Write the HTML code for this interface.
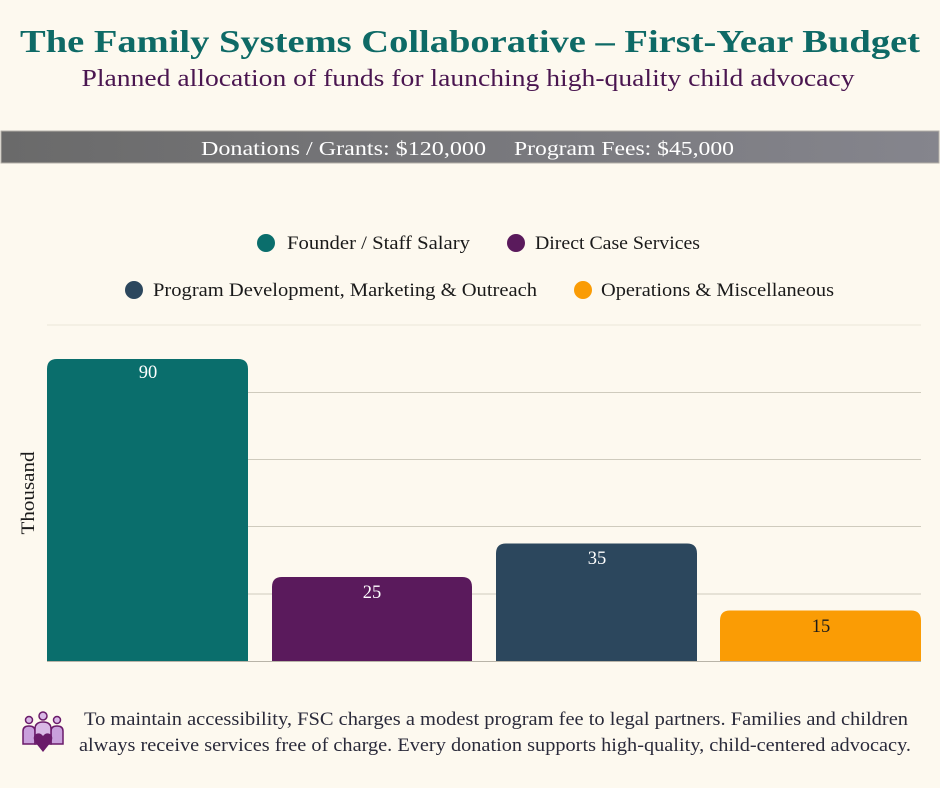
<!DOCTYPE html>
<html><head><meta charset="utf-8"><style>
html,body{margin:0;padding:0;background:#fdf9ef;}
svg{display:block;}
text{font-family:"Liberation Serif","DejaVu Serif",serif;}
</style></head><body>
<svg width="940" height="788" viewBox="0 0 940 788" xmlns="http://www.w3.org/2000/svg">
<defs>
<linearGradient id="band" x1="0" x2="1" y1="0" y2="0">
<stop offset="0" stop-color="#6a6a6a"/><stop offset="1" stop-color="#85858d"/>
</linearGradient>
</defs>
<rect width="940" height="788" fill="#fdf9ef"/>
<text x="470" y="52" text-anchor="middle" font-size="32" font-weight="bold" fill="#0e6a66" textLength="900" lengthAdjust="spacingAndGlyphs">The Family Systems Collaborative – First-Year Budget</text>
<text x="468" y="86" text-anchor="middle" font-size="24" fill="#4a1650" textLength="773" lengthAdjust="spacingAndGlyphs">Planned allocation of funds for launching high-quality child advocacy</text>
<rect x="1" y="131" width="938" height="32" fill="url(#band)" stroke="#b4b0a8" stroke-width="1"/>
<text x="343.5" y="155" text-anchor="middle" font-size="20" fill="#ffffff" textLength="285" lengthAdjust="spacingAndGlyphs">Donations / Grants: $120,000</text>
<text x="624" y="155" text-anchor="middle" font-size="20" fill="#ffffff" textLength="220" lengthAdjust="spacingAndGlyphs">Program Fees: $45,000</text>
<!-- legend -->
<circle cx="266" cy="243" r="9" fill="#0a6e6c"/>
<text x="287" y="249" font-size="19" fill="#1a1a1a" textLength="183" lengthAdjust="spacingAndGlyphs">Founder / Staff Salary</text>
<circle cx="516" cy="243" r="9" fill="#5a1a5c"/>
<text x="535" y="249" font-size="19" fill="#1a1a1a" textLength="165" lengthAdjust="spacingAndGlyphs">Direct Case Services</text>
<circle cx="134" cy="290" r="9" fill="#2c475d"/>
<text x="153" y="296" font-size="19" fill="#1a1a1a" textLength="384" lengthAdjust="spacingAndGlyphs">Program Development, Marketing &amp; Outreach</text>
<circle cx="583" cy="290" r="9" fill="#fa9c05"/>
<text x="601" y="296" font-size="19" fill="#1a1a1a" textLength="233" lengthAdjust="spacingAndGlyphs">Operations &amp; Miscellaneous</text>
<!-- gridlines -->
<line x1="47" x2="921" y1="325" y2="325" stroke="#ece7da" stroke-width="1"/>
<line x1="47" x2="921" y1="392.5" y2="392.5" stroke="#cfcbbd" stroke-width="1"/>
<line x1="47" x2="921" y1="459.5" y2="459.5" stroke="#cfcbbd" stroke-width="1"/>
<line x1="47" x2="921" y1="526.5" y2="526.5" stroke="#cfcbbd" stroke-width="1"/>
<line x1="47" x2="921" y1="594" y2="594" stroke="#cfcbbd" stroke-width="1"/>
<line x1="47" x2="921" y1="661.5" y2="661.5" stroke="#b8b4a8" stroke-width="1"/>
<!-- bars -->
<path d="M47,661 V369 Q47,359 57,359 H238 Q248,359 248,369 V661 Z" fill="#0a6e6c"/>
<path d="M272,661 V587 Q272,577 282,577 H462 Q472,577 472,587 V661 Z" fill="#5a1a5c"/>
<path d="M496,661 V553.5 Q496,543.5 506,543.5 H687 Q697,543.5 697,553.5 V661 Z" fill="#2c475d"/>
<path d="M720,661 V620.5 Q720,610.5 730,610.5 H911 Q921,610.5 921,620.5 V661 Z" fill="#fa9c05"/>
<text x="148" y="378" text-anchor="middle" font-size="18.5" fill="#ffffff">90</text>
<text x="372" y="598" text-anchor="middle" font-size="18.5" fill="#ffffff">25</text>
<text x="597" y="564" text-anchor="middle" font-size="18.5" fill="#ffffff">35</text>
<text x="821" y="632" text-anchor="middle" font-size="18.5" fill="#1a1a1a">15</text>
<text transform="translate(34,493) rotate(-90)" text-anchor="middle" font-size="19" fill="#1a1a1a" textLength="83" lengthAdjust="spacingAndGlyphs">Thousand</text>
<!-- icon -->
<g>
<circle cx="29" cy="720" r="3.5" fill="#d9b8e6" stroke="#6a1b6a" stroke-width="1.5"/>
<circle cx="43" cy="716" r="4" fill="#d9b8e6" stroke="#6a1b6a" stroke-width="1.5"/>
<circle cx="57" cy="720" r="3.5" fill="#d9b8e6" stroke="#6a1b6a" stroke-width="1.5"/>
<path d="M23,744 V731 Q23,726 29,726 Q35,726 35,731 V744 Z" fill="#c9a0dc" stroke="#6a1b6a" stroke-width="1.5"/>
<path d="M51,744 V731 Q51,726 57,726 Q63,726 63,731 V744 Z" fill="#c9a0dc" stroke="#6a1b6a" stroke-width="1.5"/>
<path d="M35,744 V729 Q35,722 43,722 Q51,722 51,729 V744 Z" fill="#d9b8e6" stroke="#6a1b6a" stroke-width="1.5"/>
<path d="M43,752 L35,742 Q32,737 36,734 Q40,732 43,736 Q46,732 50,734 Q54,737 51,742 Z" fill="#6a1b6a"/>
</g>
<text x="496" y="725" text-anchor="middle" font-size="18.5" fill="#2a2a3a" textLength="824" lengthAdjust="spacingAndGlyphs">To maintain accessibility, FSC charges a modest program fee to legal partners. Families and children</text>
<text x="495" y="751" text-anchor="middle" font-size="18.5" fill="#2a2a3a" textLength="832" lengthAdjust="spacingAndGlyphs">always receive services free of charge. Every donation supports high-quality, child-centered advocacy.</text>
</svg>
</body></html>
